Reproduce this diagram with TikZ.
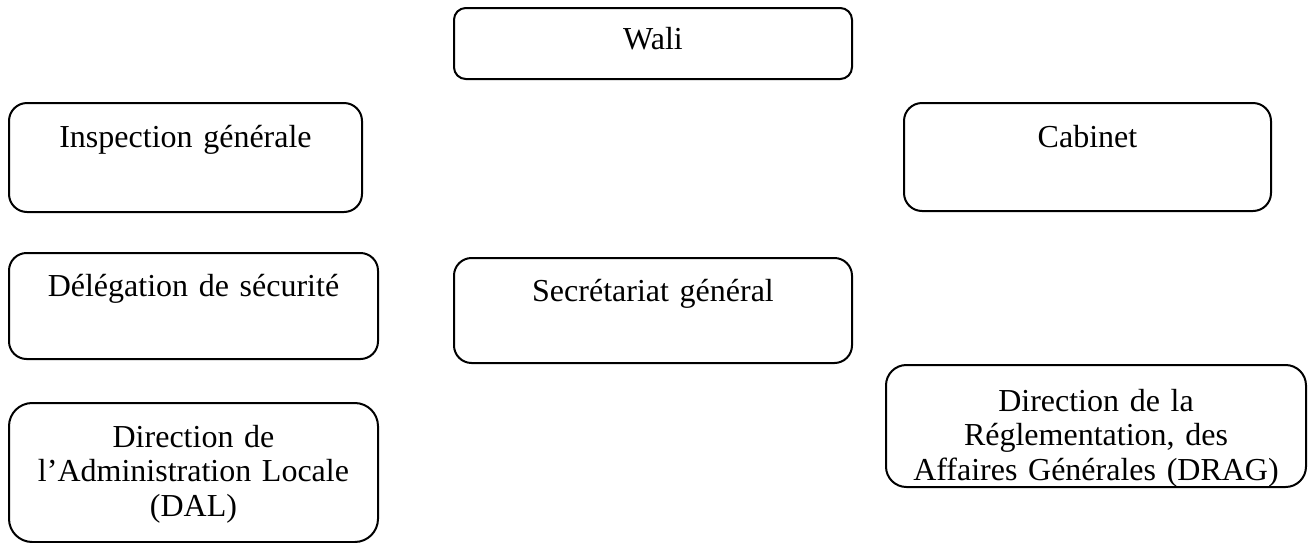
\documentclass[tikz,border=0pt]{standalone}
\usepackage{fontspec}
\setmainfont{Liberation Serif}
\begin{document}
\begin{tikzpicture}[x=0.5pt,y=-0.5pt,
  unitbox/.style={draw=black, line width=1pt, rectangle, rounded corners=#1,
    inner sep=0pt, anchor=north west},
  unitlabel/.style={anchor=base, inner sep=0pt, align=center, text width=208pt,
    font=\fontsize{16}{17.4}\selectfont}]
\useasboundingbox (0,0) rectangle (1313,542);

% boxes of the organisation chart
\node[unitbox=5.9pt, minimum width=199pt, minimum height=35.5pt] (wali) at (453,7) {};
\node[unitbox=9pt, minimum width=176.5pt, minimum height=54.5pt] (insp) at (8,102) {};
\node[unitbox=9pt, minimum width=183.5pt, minimum height=54pt] (cab) at (903,102) {};
\node[unitbox=8.8pt, minimum width=184.5pt, minimum height=53pt] (deleg) at (8,252) {};
\node[unitbox=8.8pt, minimum width=199pt, minimum height=52.5pt] (secr) at (453,257) {};
\node[unitbox=11.6pt, minimum width=184.5pt, minimum height=69.5pt] (dal) at (8,402) {};
\node[unitbox=10.2pt, minimum width=210pt, minimum height=61pt] (drag) at (885,364) {};

% titles, set near the top of each box
\node[unitlabel, yshift=-21pt] (wali-t) at (wali.north) {Wali};
\node[unitlabel, yshift=-22.5pt] (insp-t) at (insp.north) {Inspection générale};
\node[unitlabel, yshift=-22.75pt] (cab-t) at (cab.north) {Cabinet};
\node[unitlabel, yshift=-22pt] (deleg-t) at (deleg.north) {Délégation de sécurité};
\node[unitlabel, yshift=-22pt] (secr-t) at (secr.north) {Secrétariat général};
\node[unitlabel, yshift=-22.5pt] (dal-t) at (dal.north) {Direction de\\l’Administration Locale\\(DAL)};
\node[unitlabel, yshift=-23.5pt] (drag-t) at (drag.north) {Direction de la\\Réglementation, des\\Affaires Générales (DRAG)};
\end{tikzpicture}
\end{document}
